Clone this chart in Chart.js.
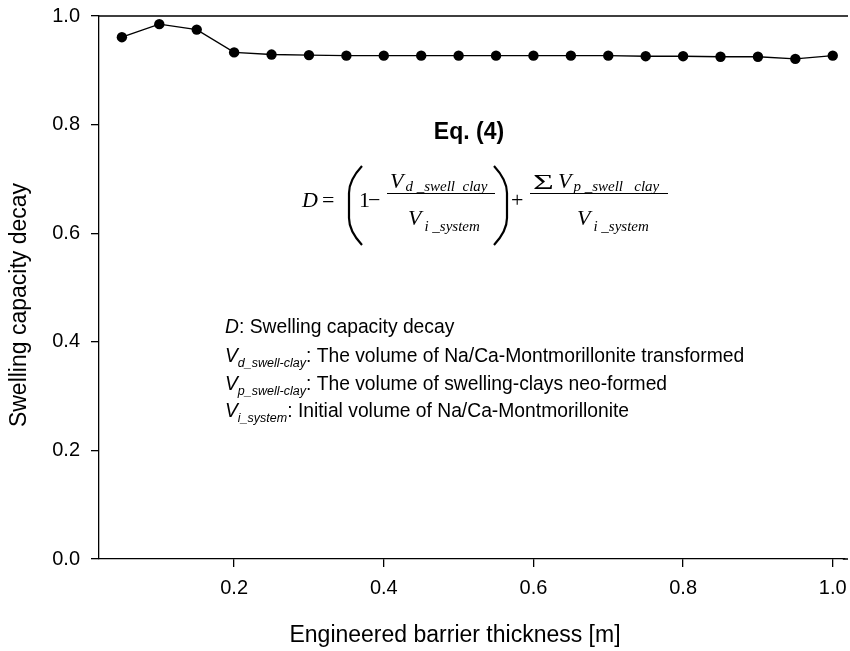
<!DOCTYPE html>
<html>
<head>
<meta charset="utf-8">
<script src="https://cdn.jsdelivr.net/npm/chart.js@4.4.0/dist/chart.umd.min.js"></script>
<style>
    html, body { margin: 0; padding: 0; background: #fff; }
    #wrap { width: 850px; height: 651px; }
</style>
</head>
<body>
<div id="wrap"><canvas id="decayChart" width="850" height="651"></canvas></div>
<script>
// data
const thickness = [0.05, 0.10, 0.15, 0.20, 0.25, 0.30, 0.35, 0.40, 0.45, 0.50,
                   0.55, 0.60, 0.65, 0.70, 0.75, 0.80, 0.85, 0.90, 0.95, 1.00];
const decay = [0.961, 0.985, 0.975, 0.933, 0.929, 0.928, 0.927, 0.927, 0.927, 0.927,
               0.927, 0.927, 0.927, 0.927, 0.926, 0.926, 0.925, 0.925, 0.921, 0.927];
const xTicks = [0.2, 0.4, 0.6, 0.8, 1.0];
const yTicks = [0.0, 0.2, 0.4, 0.6, 0.8, 1.0];
const xTitle = 'Engineered barrier thickness [m]';
const yTitle = 'Swelling capacity decay';

const sans = '"Liberation Sans", Arial, sans-serif';
const serif = '"Liberation Serif", "Times New Roman", serif';

// draws a text piece and returns the x after it
function put(ctx, text, x, y, font) {
    ctx.font = font;
    ctx.fillText(text, x, y);
    return x + ctx.measureText(text).width;
}

// tall bracket; x0 = bulging side, x1 = tip side
function bigParen(ctx, x0, x1, top, bottom) {
    ctx.beginPath();
    ctx.moveTo(x1, top);
    ctx.quadraticCurveTo(x0, top + 14, x0, top + 27);
    ctx.lineTo(x0, bottom - 27);
    ctx.quadraticCurveTo(x0, bottom - 14, x1, bottom);
    ctx.lineWidth = 2.2;
    ctx.stroke();
}

const notes = {
    id: 'notes',
    afterDraw(chart) {
        const ctx = chart.ctx;
        const area = chart.chartArea;
        ctx.save();
        ctx.fillStyle = '#000';
        ctx.strokeStyle = '#000';

        // top frame line, and both horizontal lines run on to the right edge
        ctx.lineWidth = 1.3;
        ctx.beginPath();
        ctx.moveTo(area.left, area.top);
        ctx.lineTo(848, area.top);
        ctx.moveTo(area.right - 2, area.bottom);
        ctx.lineTo(848, area.bottom);
        ctx.stroke();

        // axis titles (sit a bit off the centre in the original)
        ctx.textAlign = 'center';
        ctx.textBaseline = 'middle';
        ctx.font = '23px ' + sans;
        ctx.fillText(xTitle, 455, 636);
        ctx.save();
        ctx.translate(20, 305);
        ctx.rotate(-Math.PI / 2);
        ctx.fillText(yTitle, 0, 0);
        ctx.restore();

        ctx.textBaseline = 'alphabetic';
        ctx.font = 'bold 23px ' + sans;
        ctx.fillText('Eq. (4)', 469, 139);

        // equation
        ctx.textAlign = 'left';
        const big = 'italic 22px ' + serif;
        const up = '22px ' + serif;
        const sub = 'italic 15px ' + serif;
        put(ctx, 'D', 302, 207, big);
        put(ctx, '=', 322, 207, up);
        bigParen(ctx, 349, 362, 166, 245);
        put(ctx, '1', 359, 207, up);
        put(ctx, '\u2212', 368, 207, up);
        ctx.lineWidth = 1;
        ctx.beginPath();
        ctx.moveTo(387, 193.5); ctx.lineTo(495, 193.5);
        ctx.moveTo(530, 193.5); ctx.lineTo(668, 193.5);
        ctx.stroke();
        let x = put(ctx, 'V', 390, 188, big);
        put(ctx, 'd _swell  clay', x + 2, 191, sub);
        x = put(ctx, 'V', 408, 225, big);
        put(ctx, 'i _system', x + 3, 231, sub);
        bigParen(ctx, 507, 494, 166, 245);
        put(ctx, '+', 511, 207, up);
        // summation sign, stretched sideways
        ctx.save();
        ctx.translate(533, 189);
        ctx.scale(1.7, 1);
        put(ctx, '\u03A3', 0, 0, '21px ' + serif);
        ctx.restore();
        x = put(ctx, 'V', 558, 188, big);
        put(ctx, 'p _swell   clay', x + 2, 191, sub);
        x = put(ctx, 'V', 577, 225, big);
        put(ctx, 'i _system', x + 3, 231, sub);

        // legend of symbols
        const txt = '19.3px ' + sans;
        const it = 'italic 19.3px ' + sans;
        const itSub = 'italic 12.5px ' + sans;
        x = put(ctx, 'D', 225, 333, it);
        put(ctx, ': Swelling capacity decay', x, 333, txt);
        const rows = [
            ['d_swell-clay', ': The volume of Na/Ca-Montmorillonite transformed', 362],
            ['p_swell-clay', ': The volume of swelling-clays neo-formed', 390],
            ['i_system', ': Initial volume of Na/Ca-Montmorillonite', 417]
        ];
        rows.forEach(row => {
            let px = put(ctx, 'V', 225, row[2], it);
            px = put(ctx, row[0], px, row[2] + 5, itSub);
            put(ctx, row[1], px, row[2], txt);
        });
        ctx.restore();
    }
};

const ctx = document.getElementById('decayChart').getContext('2d');
const chart = new Chart(ctx, {
    type: 'line',
    data: {
        datasets: [{
            data: thickness.map((t, i) => ({ x: t, y: decay[i] })),
            borderColor: '#000',
            borderWidth: 1.4,
            backgroundColor: '#000',
            pointRadius: 5.2,
            pointBorderWidth: 0,
            pointBackgroundColor: '#000',
            tension: 0,
            clip: false
        }]
    },
    options: {
        responsive: false,
        animation: false,
        devicePixelRatio: 1,
        layout: { padding: { top: 16, right: 2, left: 0, bottom: 0 } },
        plugins: {
            legend: { display: false },
            tooltip: { enabled: false }
        },
        scales: {
            x: {
                type: 'linear',
                min: 0.0194,
                max: 1.0161,
                afterBuildTicks: scale => { scale.ticks = xTicks.map(v => ({ value: v })); },
                afterFit: scale => {
                    scale.height = 92;
                    scale.paddingLeft = 0;
                    scale.paddingRight = 0;
                },
                border: { display: true, color: '#000', width: 1.3 },
                grid: { drawOnChartArea: false, drawTicks: true, tickLength: 8, color: '#000', lineWidth: 1.3 },
                ticks: {
                    color: '#000',
                    padding: 9,
                    maxRotation: 0,
                    font: { family: sans, size: 20 },
                    callback: v => v.toFixed(1)
                }
            },
            y: {
                min: 0,
                max: 1,
                afterBuildTicks: scale => { scale.ticks = yTicks.map(v => ({ value: v })); },
                afterFit: scale => {
                    scale.width = 99;
                    scale.paddingTop = 0;
                    scale.paddingBottom = 0;
                },
                border: { display: true, color: '#000', width: 1.3 },
                grid: { drawOnChartArea: false, drawTicks: true, tickLength: 8, color: '#000', lineWidth: 1.3 },
                ticks: {
                    color: '#000',
                    padding: 11,
                    font: { family: sans, size: 20 },
                    callback: v => v.toFixed(1)
                }
            }
        }
    },
    plugins: [notes]
});
</script>
</body>
</html>
